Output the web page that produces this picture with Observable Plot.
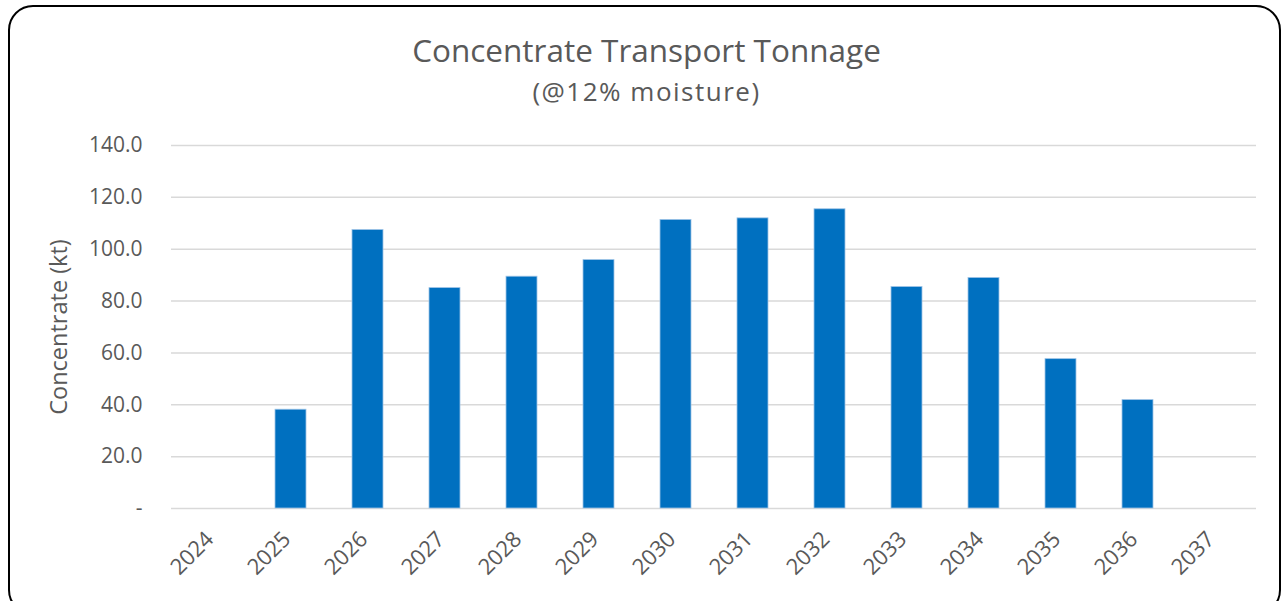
<!DOCTYPE html>
<html>
<head>
<meta charset="utf-8">
<script src="https://cdn.jsdelivr.net/npm/d3@7"></script>
<script src="https://cdn.jsdelivr.net/npm/@observablehq/plot@0.6"></script>
<style>
  html, body { margin: 0; padding: 0; background: #fff; width: 1283px; height: 601px; overflow: hidden; }
  #frame { position: absolute; left: 8px; top: 5px; width: 1273px; height: 610px; border: 2px solid #000; border-radius: 25px; box-sizing: border-box; }
  #title { position: absolute; left: 0; width: 1293px; top: 28px; text-align: center; font-family: "Open Sans", sans-serif; font-size: 31.5px; line-height: normal; color: #595959; white-space: nowrap; }
  #subtitle { position: absolute; left: 0; width: 1293px; top: 73px; text-align: center; font-family: "Open Sans", sans-serif; font-size: 26px; letter-spacing: 1.5px; line-height: normal; color: #595959; white-space: nowrap; }
  #chart { position: absolute; left: 0; top: 120px; }
  #chart svg text { font-family: "Open Sans", sans-serif; fill: #595959; }
  #chart svg [aria-label="y-axis tick label"], #chart svg [aria-label="y-axis tick label"] text { font-size: 21px !important; }
  #chart svg [aria-label="x-axis tick label"], #chart svg [aria-label="x-axis tick label"] text { font-size: 22px !important; }
</style>
</head>
<body>
<div id="frame"></div>
<div id="title">Concentrate Transport Tonnage</div>
<div id="subtitle">(@12% moisture)</div>
<div id="chart"></div>
<script>
const years = ["2024","2025","2026","2027","2028","2029","2030","2031","2032","2033","2034","2035","2036","2037"];
const tonnage = [null, 38.1, 107.4, 85.0, 89.4, 95.8, 111.3, 111.9, 115.4, 85.4, 88.9, 57.6, 41.8, null];
const yTicks = [0, 20, 40, 60, 80, 100, 120, 140];
const yLabel = "Concentrate (kt)";

const data = years.map((y, i) => ({year: y, value: tonnage[i]}));

const chart = Plot.plot({
  width: 1283,
  height: 481,
  marginLeft: 171,
  marginRight: 27,
  marginTop: 25,
  marginBottom: 93,
  style: { fontFamily: "Open Sans, sans-serif", fontSize: "21px", color: "#595959", background: "transparent" },
  x: { domain: years, paddingInner: 0.6, paddingOuter: 0.3 },
  y: { domain: [0, 140] },
  marks: [
    Plot.gridY(yTicks, { stroke: "#d9d9d9", strokeOpacity: 1, strokeWidth: 1.5 }),
    Plot.barY(data.filter(d => d.value != null), { x: "year", y: "value", fill: "#0070C0", stroke: "#9dc3e6", strokeWidth: 0.8 }),
    Plot.axisY({ ticks: yTicks, tickSize: 0, tickPadding: 29, tickFormat: d => d === 0 ? "-" : d.toFixed(1),
      label: yLabel, labelAnchor: "center", labelArrow: "none", labelOffset: 121 }),
    Plot.axisX({ tickSize: 0, tickPadding: 27, dx: -4, tickRotate: -45, label: null })
  ]
});
d3.select(chart).selectAll("text").filter(function() { return this.textContent === yLabel; })
  .style("font-size", "23.5px");
document.getElementById("chart").appendChild(chart);
</script>
</body>
</html>
